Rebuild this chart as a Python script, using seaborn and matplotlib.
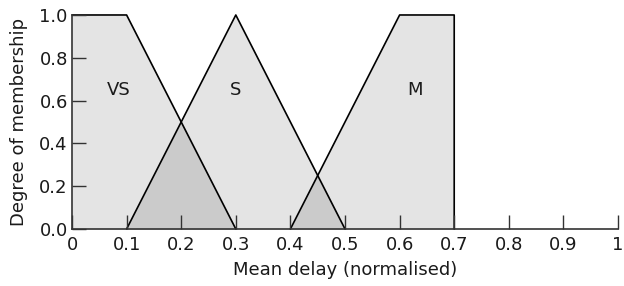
import numpy as np
import matplotlib
import matplotlib.pyplot as plt
import seaborn as sns

matplotlib.use("Agg")

# ── Membership functions (breakpoints) ───────────────────────────────────
vs_x = [0.0, 0.1, 0.3]
vs_y = [1.0, 1.0, 0.0]
s_x = [0.1, 0.3, 0.5]
s_y = [0.0, 1.0, 0.0]
m_x = [0.4, 0.6, 0.7, 0.7]
m_y = [0.0, 1.0, 1.0, 0.0]

set_labels = ["VS", "S", "M"]
label_x = [0.085, 0.30, 0.628]
label_y = [0.65, 0.65, 0.65]

x_ticks = [0, 0.1, 0.2, 0.3, 0.4, 0.5, 0.6, 0.7, 0.8, 0.9, 1]
x_ticklabels = ["0", "0.1", "0.2", "0.3", "0.4", "0.5", "0.6", "0.7", "0.8", "0.9", "1"]
y_ticks = [0.0, 0.2, 0.4, 0.6, 0.8, 1.0]

LIGHT = "#e4e4e4"
DARK = "#cbcbcb"
INK = "#1a1a1a"

sns.set_style("ticks")
plt.rcParams["font.family"] = ["DejaVu Sans"]
plt.rcParams["text.color"] = INK
plt.rcParams["axes.labelcolor"] = INK
plt.rcParams["xtick.color"] = INK
plt.rcParams["ytick.color"] = INK

fig, ax = plt.subplots(figsize=(6.24, 2.86), dpi=100)
fig.subplots_adjust(left=0.1154, right=0.9904, top=0.9476, bottom=0.1993)
ax.set_axisbelow(False)

sets = [(vs_x, vs_y), (s_x, s_y), (m_x, m_y)]

# light fill under every set
for xs, ys in sets:
    ax.fill_between(xs, ys, 0, color=LIGHT, linewidth=0)

# darker fill where neighbouring sets overlap
grid = np.linspace(0, 0.7, 1401)
vs_g = np.interp(grid, vs_x, vs_y, left=0, right=0)
s_g = np.interp(grid, s_x, s_y, left=0, right=0)
m_g = np.interp(grid, m_x[:3], m_y[:3], left=0, right=0)
ax.fill_between(grid, np.minimum(vs_g, s_g), 0, color=DARK, linewidth=0)
ax.fill_between(grid, np.minimum(s_g, m_g), 0, color=DARK, linewidth=0)

# outlines
for xs, ys in sets:
    sns.lineplot(x=xs, y=ys, ax=ax, color="black", linewidth=1.2,
                 sort=False, estimator=None, clip_on=False)

for lab, lx, ly in zip(set_labels, label_x, label_y):
    ax.text(lx, ly, lab, ha="center", va="center", fontsize=13)

ax.set_xlim(0, 1)
ax.set_ylim(0, 1)
ax.set_xticks(x_ticks)
ax.set_xticklabels(x_ticklabels)
ax.set_yticks(y_ticks)
ax.set_yticklabels([f"{v:.1f}" for v in y_ticks])
ax.tick_params(axis="both", direction="in", length=10, width=1,
               labelsize=13, color="#333333")
ax.tick_params(axis="x", pad=5)
ax.tick_params(axis="y", pad=3)
ax.set_xlabel("Mean delay (normalised)", fontsize=13, labelpad=5)
ax.set_ylabel("Degree of membership", fontsize=13, labelpad=8)

sns.despine(ax=ax, top=True, right=True)
for side in ["left", "bottom"]:
    ax.spines[side].set_linewidth(1.2)
    ax.spines[side].set_color("#333333")

fig.savefig("out.png", dpi=100)
plt.close(fig)
